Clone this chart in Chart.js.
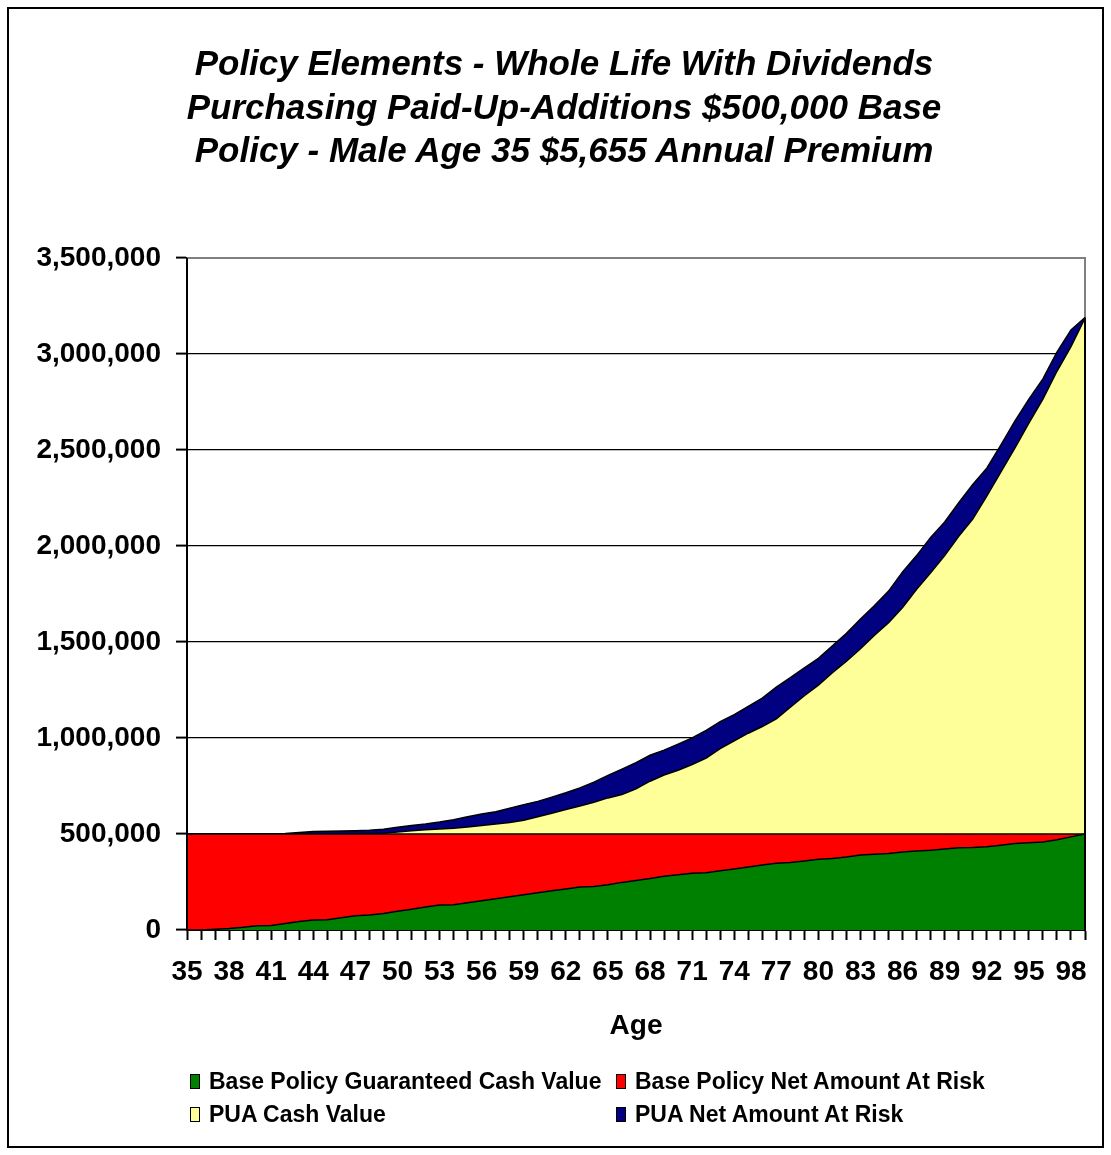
<!DOCTYPE html>
<html>
<head>
<meta charset="utf-8">
<script src="https://cdn.jsdelivr.net/npm/chart.js@4.4.1/dist/chart.umd.min.js"></script>
<style>
  html, body { margin: 0; padding: 0; background: #fff; }
  #wrap { position: relative; width: 1111px; height: 1155px; }
  #frame { position: absolute; left: 7px; top: 7px; width: 1097px; height: 1141px; border: 2px solid #000; box-sizing: border-box; pointer-events: none; }
  #title { position: absolute; left: 64px; top: 41px; width: 1000px; text-align: center;
           font: italic bold 35px/43.5px "Liberation Sans", Arial, sans-serif; color: #000; }
  #legend { position: absolute; left: 190px; top: 1069px; display: grid; grid-template-columns: 426px 360px; row-gap: 9px;
            font: bold 23px "Liberation Sans", Arial, sans-serif; color: #000; }
  .item { display: flex; align-items: center; height: 24px; white-space: nowrap; }
  .sw { flex: 0 0 auto; width: 8px; height: 13px; border: 1.5px solid #000; margin-right: 9px; }
</style>
</head>
<body>
<div id="wrap">
  <canvas id="chart" width="1111" height="1155"></canvas>
  <div id="frame"></div>
  <div id="title"></div>
  <div id="legend"></div>
</div>
<script>
const titleLines = [
  'Policy Elements - Whole Life With Dividends',
  'Purchasing Paid-Up-Additions $500,000 Base',
  'Policy - Male Age 35 $5,655 Annual Premium'
];

// ages on the x axis
const ages = [
  "35","36","37","38","39","40","41","42","43","44",
  "45","46","47","48","49","50","51","52","53","54",
  "55","56","57","58","59","60","61","62","63","64",
  "65","66","67","68","69","70","71","72","73","74",
  "75","76","77","78","79","80","81","82","83","84",
  "85","86","87","88","89","90","91","92","93","94",
  "95","96","97","98","99"
];

// base policy guaranteed cash value
const baseCashValue = [
  0, 0, 4000, 8000, 14000, 22000, 24000, 34000, 44000, 52000,
  54000, 64000, 74000, 78000, 86000, 98000, 108000, 120000, 130000, 132000,
  142000, 152000, 163000, 173000, 184000, 194000, 204000, 214000, 224000, 226000,
  236000, 248000, 258000, 268000, 280000, 288000, 295000, 298000, 308000, 318000,
  328000, 338000, 348000, 352000, 360000, 368000, 372000, 380000, 390000, 394000,
  398000, 406000, 412000, 416000, 422000, 428000, 430000, 434000, 442000, 450000,
  454000, 458000, 470000, 485000, 500000
];

// base policy net amount at risk
const baseNetRisk = [
  500000, 500000, 496000, 492000, 486000, 478000, 476000, 466000, 456000, 448000,
  446000, 436000, 426000, 422000, 414000, 402000, 392000, 380000, 370000, 368000,
  358000, 348000, 337000, 327000, 316000, 306000, 296000, 286000, 276000, 274000,
  264000, 252000, 242000, 232000, 220000, 212000, 205000, 202000, 192000, 182000,
  172000, 162000, 152000, 148000, 140000, 132000, 128000, 120000, 110000, 106000,
  102000, 94000, 88000, 84000, 78000, 72000, 70000, 66000, 58000, 50000,
  46000, 42000, 30000, 15000, 0
];

// paid-up-additions cash value
const puaCashValue = [
  0, 0, 0, 0, 0, 0, 0, 0, 0, 0,
  0, 0, 1000, 2000, 4000, 10000, 17000, 22000, 26000, 30000,
  37000, 44000, 52000, 60000, 72000, 90000, 108000, 128000, 146000, 165000,
  188000, 206000, 235000, 275000, 307000, 332000, 362000, 395000, 445000, 485000,
  525000, 560000, 600000, 660000, 720000, 775000, 840000, 900000, 965000, 1035000,
  1100000, 1180000, 1275000, 1360000, 1450000, 1550000, 1640000, 1760000, 1885000, 2010000,
  2140000, 2265000, 2410000, 2538000, 2686000
];

// paid-up-additions net amount at risk
const puaNetRisk = [
  0, 0, 0, 0, 0, 0, 0, 3000, 8000, 13000,
  14000, 15000, 16000, 17000, 21000, 25000, 27000, 30000, 36000, 44000,
  53000, 60000, 64000, 74000, 81000, 80000, 84000, 87000, 94000, 105000,
  117000, 132000, 137000, 135000, 130000, 136000, 138000, 145000, 140000, 137000,
  140000, 148000, 165000, 155000, 145000, 140000, 140000, 145000, 155000, 155000,
  165000, 185000, 175000, 185000, 175000, 175000, 180000, 145000, 140000, 140000,
  125000, 105000, 100000, 87000, 4000
];

const FONT = '"Liberation Sans", Arial, sans-serif';

// gray frame on top/right of plot, black edges over the areas
const plotFrame = {
  id: 'plotFrame',
  beforeDatasetsDraw(chart) {
    const { ctx, chartArea: a } = chart;
    ctx.save();
    ctx.strokeStyle = '#808080';
    ctx.lineWidth = 2;
    ctx.beginPath();
    ctx.moveTo(a.left, a.top);
    ctx.lineTo(a.right, a.top);
    ctx.lineTo(a.right, a.bottom);
    ctx.stroke();
    ctx.restore();
  },
  afterDatasetsDraw(chart) {
    const { ctx, chartArea: a } = chart;
    const pts = chart.getDatasetMeta(chart.data.datasets.length - 1).data;
    const p = pts[pts.length - 1];
    ctx.save();
    ctx.strokeStyle = '#000';
    ctx.lineWidth = 2;
    ctx.beginPath();
    ctx.moveTo(p.x, p.y);
    ctx.lineTo(p.x, a.bottom);
    ctx.moveTo(a.left, a.top);
    ctx.lineTo(a.left, a.bottom);
    ctx.stroke();
    ctx.restore();
  }
};

function area(label, data, color, fill) {
  return {
    label: label,
    data: data,
    backgroundColor: color,
    borderColor: '#000',
    borderWidth: 1.5,
    pointRadius: 0,
    tension: 0,
    fill: fill
  };
}

document.getElementById('title').innerHTML = titleLines.join('<br>');

const chart = new Chart(document.getElementById('chart'), {
  type: 'line',
  data: {
    labels: ages,
    datasets: [
      area('Base Policy Guaranteed Cash Value', baseCashValue, '#008000', 'origin'),
      area('Base Policy Net Amount At Risk', baseNetRisk, '#FF0000', '-1'),
      area('PUA Cash Value', puaCashValue, '#FFFF99', '-1'),
      area('PUA Net Amount At Risk', puaNetRisk, '#000080', '-1')
    ]
  },
  options: {
    responsive: false,
    animation: false,
    events: [],
    layout: { padding: { left: 0, right: 26, top: 258, bottom: 112 } },
    plugins: {
      legend: { display: false },
      tooltip: { enabled: false },
      title: { display: false }
    },
    scales: {
      x: {
        z: 1,
        grid: { drawOnChartArea: false, color: '#000', tickLength: 10, tickWidth: 2 },
        border: { color: '#000', width: 2 },
        ticks: {
          autoSkip: false,
          maxRotation: 0,
          padding: 15,
          color: '#000',
          font: { family: FONT, size: 28, weight: 'bold' },
          callback: function (v, i) { return i % 3 === 0 ? ages[i] : ''; }
        },
        title: {
          display: true,
          text: 'Age',
          color: '#000',
          padding: 0,
          font: { family: FONT, size: 28, weight: 'bold' }
        },
        afterFit: function (s) { s.height = 113; }
      },
      y: {
        stacked: true,
        min: 0,
        max: 3500000,
        grid: {
          color: ctx => ctx.tick && ctx.tick.value === 3500000 ? '#808080' : '#000',
          lineWidth: 1.2,
          tickColor: '#000',
          tickLength: 11,
          tickWidth: 2
        },
        border: { color: '#000', width: 2 },
        ticks: {
          stepSize: 500000,
          padding: 15,
          color: '#000',
          font: { family: FONT, size: 28, weight: 'bold' },
          callback: v => v.toLocaleString('en-US')
        },
        afterFit: function (s) { s.width = 187; }
      }
    }
  },
  plugins: [plotFrame]
});

// legend in two columns, built from the datasets
const legend = document.getElementById('legend');
chart.data.datasets.forEach(ds => {
  const item = document.createElement('div');
  item.className = 'item';
  const sw = document.createElement('span');
  sw.className = 'sw';
  sw.style.background = ds.backgroundColor;
  item.appendChild(sw);
  item.appendChild(document.createTextNode(ds.label));
  legend.appendChild(item);
});
</script>
</body>
</html>
